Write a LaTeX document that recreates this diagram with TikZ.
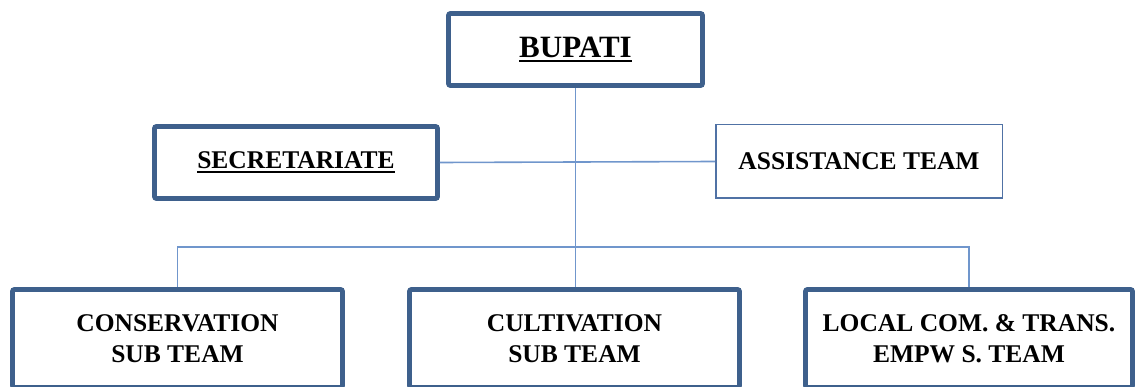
\documentclass[tikz,border=0pt]{standalone}
\usepackage{fontspec}
\setmainfont{Liberation Serif}
\definecolor{boxedge}{RGB}{62,96,140}
\definecolor{thinedge}{RGB}{80,114,165}
\definecolor{linkline}{RGB}{112,150,204}
% heavier underline for the headings
\newcommand\ulword[1]{\setbox0\hbox{#1}\rlap{\rule[-4.6pt]{\wd0}{2.4pt}}\box0}
\begin{document}
\begin{tikzpicture}[x=1pt,y=-1pt,
  heavybox/.style={draw=boxedge,line width=4.8pt,rounded corners=2pt,fill=white,
    font=\bfseries\fontsize{25.5}{31}\selectfont,align=center,inner sep=0pt},
  lightbox/.style={draw=thinedge,line width=1.5pt,fill=white,
    font=\bfseries\fontsize{25.5}{31}\selectfont,align=center,inner sep=0pt},
  link/.style={draw=linkline,line width=1.6pt}]
  \useasboundingbox (0,0) rectangle (1143,387);
  \clip (0,0) rectangle (1143,387);

  % bus coordinates for the lower level
  \coordinate (busL) at (177.5,247);
  \coordinate (busR) at (969,247);

  % top and middle level
  \node[heavybox,minimum width=254pt,minimum height=72pt,
        font=\bfseries\fontsize{31}{36}\selectfont] (bupati) at (575.5,49.5) {\ulword{BUPATI}};
  \node[heavybox,minimum width=283pt,minimum height=72pt] (secr) at (296,162.5) {\ulword{SECRETARIATE}};
  \node[lightbox,minimum width=286.5pt,minimum height=73.5pt] (assist) at (859,161.5) {ASSISTANCE TEAM};

  % sub teams
  \node[heavybox,minimum width=330pt,minimum height=98pt] (cons) at (177.5,338.5) {CONSERVATION\\SUB TEAM};
  \node[heavybox,minimum width=330pt,minimum height=98pt] (cult) at (574.5,338.5) {CULTIVATION\\SUB TEAM};
  \node[heavybox,minimum width=327pt,minimum height=98pt] (local) at (969,338.5) {LOCAL COM. \& TRANS.\\EMPW S. TEAM};

  % connectors
  \path[link] (bupati.south) -- (bupati.south |- cult.north);
  \path[link] (secr.east) -- (assist.west);
  \path[link] (cons.north) -- (busL) -- (busR) -- (local.north);
\end{tikzpicture}
\end{document}
